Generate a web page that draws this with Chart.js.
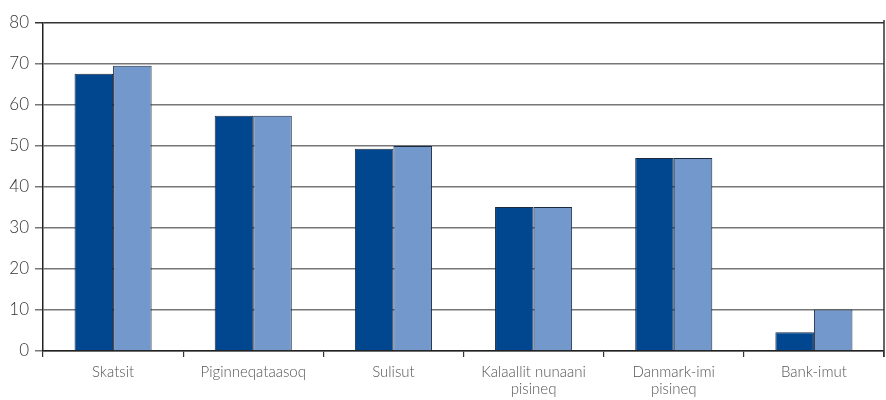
<!DOCTYPE html>
<html>
<head>
<meta charset="utf-8">
<script src="https://cdn.jsdelivr.net/npm/chart.js@4"></script>
<style>
html,body{margin:0;padding:0;background:#fff;}
#wrap{width:886px;height:400px;position:relative;}
</style>
</head>
<body>
<div id="wrap"><canvas id="c" width="886" height="400"></canvas></div>
<script>
const categories = ["Skatsit", "Piginneqataasoq", "Sulisut", ["Kalaallit nunaani", "pisineq"], ["Danmark-imi", "pisineq"], "Bank-imut"];
const seriesDark = [67.6, 57.4, 49.3, 35.1, 47.1, 4.6];
const seriesLight = [69.6, 57.4, 50.0, 35.1, 47.1, 10.1];
const yTickLabels = [0, 10, 20, 30, 40, 50, 60, 70, 80];

const frame = {
  id: 'frame',
  afterDraw(chart) {
    const {ctx, chartArea} = chart;
    ctx.save();
    ctx.strokeStyle = '#333';
    ctx.lineWidth = 1.5;
    ctx.beginPath();
    ctx.moveTo(chartArea.right, chartArea.top - 3);
    ctx.lineTo(chartArea.right, chartArea.bottom + 6);
    ctx.stroke();
    ctx.restore();
  }
};

new Chart(document.getElementById('c'), {
  type: 'bar',
  data: {
    labels: categories,
    datasets: [
      {data: seriesDark, backgroundColor: '#00478f', borderColor: '#1c2a40', borderWidth: 1, barPercentage: 1.0, categoryPercentage: 0.55},
      {data: seriesLight, backgroundColor: '#7398cc', borderColor: '#1c2a40', borderWidth: 1, barPercentage: 1.0, categoryPercentage: 0.55}
    ]
  },
  options: {
    responsive: false,
    animation: false,
    events: [],
    layout: {padding: {top: 23, right: 2, left: 0, bottom: 0}},
    plugins: {legend: {display: false}, tooltip: {enabled: false}},
    scales: {
      x: {
        afterFit(s) { s.height = 49; },
        grid: {display: true, drawOnChartArea: false, drawTicks: true, tickLength: 6, color: '#333', offset: true, lineWidth: 1.2},
        border: {display: true, color: '#222', width: 1.5},
        ticks: {color: '#555', font: {family: 'Lato', size: 15, weight: 300, lineHeight: 1.13}, padding: 7, maxRotation: 0, autoSkip: false}
      },
      y: {
        min: 0, max: 80,
        afterFit(s) { s.width = 43; },
        afterBuildTicks(s) { s.ticks = yTickLabels.map(v => ({value: v})); },
        grid: {color: (c) => c.tick && c.tick.value === 80 ? '#333' : '#777', lineWidth: 1.5, tickLength: 8, drawTicks: true},
        border: {display: true, color: '#222', width: 1.5},
        ticks: {color: '#333', font: {family: 'Lato', size: 17, weight: 300}, padding: 6, callback: (v) => String(v)}
      }
    }
  },
  plugins: [frame]
});
</script>
</body>
</html>
